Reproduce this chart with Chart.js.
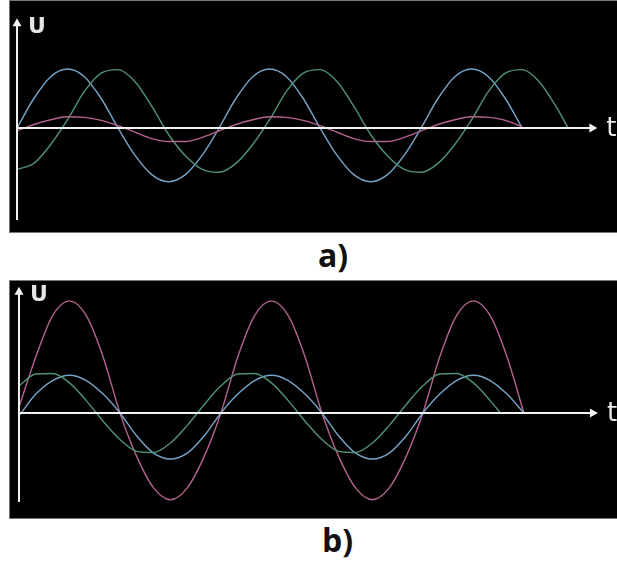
<!DOCTYPE html>
<html>
<head>
<meta charset="utf-8">
<script src="https://cdn.jsdelivr.net/npm/chart.js@4"></script>
<style>
  body { margin: 0; background: #fff; width: 617px; height: 569px; position: relative; overflow: hidden; }
  .panel { position: absolute; left: 10px; background: #000; box-shadow: 0 0 0 1px #777; }
  .panel canvas { display: block; }
  .cap { position: absolute; font-family: "Open Sans", sans-serif; font-weight: 700; font-size: 32px; color: #111; line-height: 1; }
</style>
</head>
<body>
<div class="panel" style="top:1px;"><canvas id="chart-a" width="607" height="231"></canvas></div>
<div class="cap" style="left:318px; top:239px;">a)</div>
<div class="panel" style="top:281px;"><canvas id="chart-b" width="607" height="237"></canvas></div>
<div class="cap" style="left:322px; top:524px;">b)</div>
<script>
// 时间轴（相位，度）
const topTime = [0, 30, 60, 90, 120, 150, 180, 210, 240, 270, 300, 330, 360, 390, 420, 450, 480, 510, 540, 570, 600, 630, 660, 690, 720, 750, 780, 810, 840, 870, 900];
const topGreenTime = [0, 30, 60, 90, 120, 150, 180, 210, 240, 270, 300, 330, 360, 390, 420, 450, 480, 510, 540, 570, 600, 630, 660, 690, 720, 750, 780, 810, 840, 870, 900, 930, 960, 982];
const bottomTime = topTime;
const bottomGreenTime = [0, 30, 60, 90, 120, 150, 180, 210, 240, 270, 300, 330, 360, 390, 420, 450, 480, 510, 540, 570, 600, 630, 660, 690, 720, 750, 780, 810, 840, 858];

// a) 曲线
const topBlue = [0, 0.5, 0.87, 1, 0.87, 0.5, 0, -0.46, -0.79, -0.91, -0.79, -0.46, 0, 0.5, 0.87, 1, 0.87, 0.5, 0, -0.46, -0.79, -0.91, -0.79, -0.46, 0, 0.5, 0.87, 1, 0.87, 0.5, 0];
const topGreen = [-0.7, -0.6, -0.28, 0.14, 0.62, 0.93, 0.99, 0.79, 0.37, -0.11, -0.47, -0.7, -0.75, -0.6, -0.28, 0.14, 0.62, 0.93, 0.99, 0.79, 0.37, -0.11, -0.47, -0.7, -0.75, -0.6, -0.28, 0.14, 0.62, 0.93, 0.99, 0.79, 0.37, 0];
const topPink = [-0.05, 0.06, 0.14, 0.19, 0.18, 0.13, 0.04, -0.07, -0.18, -0.23, -0.23, -0.16, -0.05, 0.06, 0.14, 0.19, 0.18, 0.13, 0.04, -0.07, -0.18, -0.23, -0.23, -0.16, -0.05, 0.06, 0.14, 0.19, 0.18, 0.13, 0.02];

// b) 曲线
const bottomPink = [0.1, 0.95, 1.65, 1.9, 1.65, 0.95, 0, -0.74, -1.27, -1.47, -1.27, -0.74, 0, 0.95, 1.65, 1.9, 1.65, 0.95, 0, -0.74, -1.27, -1.47, -1.27, -0.74, 0, 0.95, 1.65, 1.9, 1.65, 0.95, 0];
const bottomBlue = [-0.05, 0.32, 0.55, 0.64, 0.55, 0.32, 0, -0.39, -0.68, -0.78, -0.68, -0.39, 0, 0.32, 0.55, 0.64, 0.55, 0.32, 0, -0.39, -0.68, -0.78, -0.68, -0.39, 0, 0.32, 0.55, 0.64, 0.55, 0.32, 0];
const bottomGreen = [0.46, 0.66, 0.67, 0.51, 0.21, -0.14, -0.45, -0.65, -0.67, -0.51, -0.21, 0.14, 0.46, 0.66, 0.67, 0.51, 0.21, -0.14, -0.45, -0.65, -0.67, -0.51, -0.21, 0.14, 0.46, 0.66, 0.67, 0.51, 0.21, 0];

const BLUE = '#76a4c8';
const GREEN = '#4f9275';
const PINK = '#b4638e';

function pts(times, vals) {
    return vals.map((v, i) => ({ x: times[i], y: v }));
}

// 坐标轴箭头
const arrowAxes = {
    id: 'arrowAxes',
    afterDatasetsDraw(chart, args, opts) {
        const { ctx, scales: { x, y } } = chart;
        const x0 = x.getPixelForValue(0);
        const y0 = y.getPixelForValue(0);
        const xEnd = x.getPixelForValue(opts.xEnd);
        const yTop = y.getPixelForValue(opts.yTop);
        const yBot = y.getPixelForValue(opts.yBottom);
        ctx.save();
        ctx.strokeStyle = '#f2f2f2';
        ctx.fillStyle = '#f2f2f2';
        ctx.lineWidth = 2;
        ctx.beginPath();
        ctx.moveTo(x0, y0);
        ctx.lineTo(xEnd - 6, y0);
        ctx.moveTo(x0, yBot);
        ctx.lineTo(x0, yTop + 6);
        ctx.stroke();
        ctx.beginPath();
        ctx.moveTo(xEnd, y0);
        ctx.lineTo(xEnd - 8, y0 - 4.5);
        ctx.lineTo(xEnd - 8, y0 + 4.5);
        ctx.closePath();
        ctx.moveTo(x0, yTop);
        ctx.lineTo(x0 - 4.5, yTop + 8);
        ctx.lineTo(x0 + 4.5, yTop + 8);
        ctx.closePath();
        ctx.fill();
        ctx.textBaseline = 'middle';
        ctx.textAlign = 'left';
        ctx.fillStyle = '#e6e6e6';
        ctx.font = '26px "DejaVu Sans", sans-serif';
        ctx.fillText('t', xEnd + 9, y0 + 1);
        ctx.font = 'bold 22px "DejaVu Sans", sans-serif';
        ctx.fillText('U', x0 + 11, yTop + 9);
        ctx.restore();
    }
};

function makeChart(id, datasets, xMin, xMax, yMin, yMax, axis) {
    return new Chart(document.getElementById(id), {
        type: 'line',
        data: { datasets: datasets },
        options: {
            responsive: false,
            animation: false,
            devicePixelRatio: 1,
            layout: { padding: 0 },
            scales: {
                x: { type: 'linear', min: xMin, max: xMax, display: false },
                y: { type: 'linear', min: yMin, max: yMax, display: false }
            },
            elements: {
                point: { radius: 0 },
                line: { borderWidth: 1.4, cubicInterpolationMode: 'monotone' }
            },
            plugins: {
                legend: { display: false },
                tooltip: { enabled: false },
                arrowAxes: axis
            }
        },
        plugins: [arrowAxes]
    });
}

makeChart('chart-a', [
    { data: pts(topTime, topPink), borderColor: PINK },
    { data: pts(topGreenTime, topGreen), borderColor: GREEN },
    { data: pts(topTime, topBlue), borderColor: BLUE }
], -12.5, 1069, -1.763, 2.153, { xEnd: 1034, yTop: 1.86, yBottom: -1.56 });

makeChart('chart-b', [
    { data: pts(bottomGreenTime, bottomGreen), borderColor: GREEN },
    { data: pts(bottomTime, bottomBlue), borderColor: BLUE },
    { data: pts(bottomTime, bottomPink), borderColor: PINK }
], -16, 1066, -1.78, 2.237, { xEnd: 1032, yTop: 2.14, yBottom: -1.51 });
</script>
</body>
</html>
